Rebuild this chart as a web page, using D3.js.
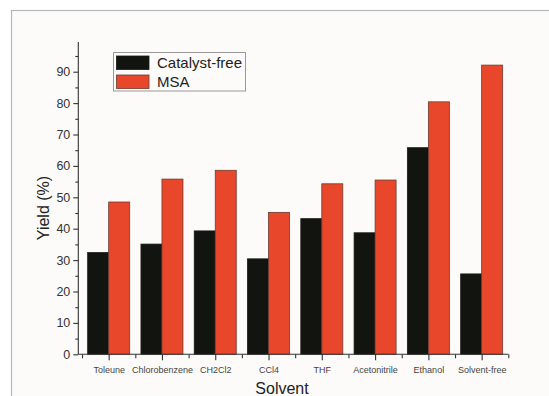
<!DOCTYPE html>
<html><head><meta charset="utf-8">
<script src="https://cdn.jsdelivr.net/npm/d3@7"></script>
<style>body{margin:0;background:#fff}svg{display:block}</style>
</head><body>
<svg id="c" width="549" height="396"></svg>
<script>
const categories = ["Toleune","Chlorobenzene","CH2Cl2","CCl4","THF","Acetonitrile","Ethanol","Solvent-free"];
const catalystFree = [32.4, 35.1, 39.3, 30.4, 43.2, 38.7, 65.8, 25.6];
const msa = [48.5, 55.8, 58.6, 45.2, 54.3, 55.5, 80.4, 92.1];
const seriesNames = ["Catalyst-free", "MSA"];
const yTicks = [0,10,20,30,40,50,60,70,80,90];

const svg = d3.select("#c");
const fill = ["#12150f", "#e8472b"];
const edge = ["#1a1a16", "#6e3b30"];

// frame
svg.append("rect").attr("x",11.5).attr("y",10.5).attr("width",600).attr("height",420)
  .attr("fill","#fdfbf9").attr("stroke","#b8b8b8").attr("stroke-width",1.2);

const x = d3.scaleLinear().domain([0.43, 8.5]).range([78.3, 508.3]);
const y = d3.scaleLinear().domain([0, 100]).range([354.3, 40.3]);
const bw = 21;

const series = [catalystFree, msa];
series.forEach((vals, s) => {
  svg.append("g").selectAll("rect").data(vals).join("rect")
    .attr("x", (d,i) => x(i+1) + (s===0 ? -bw : 0))
    .attr("y", d => y(d))
    .attr("width", bw)
    .attr("height", d => y(0) - y(d))
    .attr("fill", fill[s]).attr("stroke", edge[s]).attr("stroke-width", 0.8);
});

// Y axis
const yAxis = svg.append("g").attr("transform","translate(78.3,0)")
  .call(d3.axisLeft(y).tickValues(yTicks).tickSize(5).tickPadding(3).tickSizeOuter(0));
yAxis.select(".domain").attr("d", `M0,${y(0)}V42`);
yAxis.selectAll("text").attr("font-family","Liberation Sans, Arial, sans-serif").attr("font-size",12.5).attr("fill","#333");
yAxis.selectAll("line, .domain").attr("stroke","#333").attr("stroke-width",1.1);
svg.append("g").attr("transform","translate(78.3,0)")
  .call(d3.axisLeft(y).tickValues(d3.range(5,100,10)).tickSize(3).tickFormat("").tickSizeOuter(0))
  .call(g => g.select(".domain").remove())
  .selectAll("line").attr("stroke","#333").attr("stroke-width",1.1);

// X axis
const xAxis = svg.append("g").attr("transform",`translate(0,${y(0)})`)
  .call(d3.axisBottom(x).tickValues(d3.range(1,9)).tickSize(6).tickPadding(6)
    .tickFormat(d => categories[d-1]).tickSizeOuter(0));
xAxis.select(".domain").attr("d", `M${x(0.43)},0H${x(8.5)}`);
xAxis.selectAll("text").attr("font-family","Liberation Sans, Arial, sans-serif").attr("font-size",9).attr("fill","#444");
xAxis.selectAll("line, .domain").attr("stroke","#333").attr("stroke-width",1.1);
svg.append("g").attr("transform",`translate(0,${y(0)})`)
  .call(d3.axisBottom(x).tickValues(d3.range(0.5,9,1)).tickSize(4).tickFormat("").tickSizeOuter(0))
  .call(g => g.select(".domain").remove())
  .selectAll("line").attr("stroke","#333").attr("stroke-width",1.1);

// axis titles
svg.append("text").attr("transform","translate(49,208) rotate(-90)").attr("text-anchor","middle")
  .attr("font-family","Liberation Sans, Arial, sans-serif").attr("font-size",16).attr("fill","#222").text("Yield (%)");
svg.append("text").attr("x",282).attr("y",394).attr("text-anchor","middle")
  .attr("font-family","Liberation Sans, Arial, sans-serif").attr("font-size",16).attr("fill","#222").text("Solvent");

// legend
const lg = svg.append("g");
lg.append("rect").attr("x",113.5).attr("y",52.5).attr("width",132).attr("height",38.5)
  .attr("fill","#fdfbf9").attr("stroke","#999").attr("stroke-width",1);
seriesNames.forEach((n,i) => {
  lg.append("rect").attr("x",116.5).attr("y",56+i*19).attr("width",32.5).attr("height",13.5)
    .attr("fill",fill[i]).attr("stroke",edge[i]).attr("stroke-width",0.8);
  lg.append("text").attr("x",157).attr("y",68+i*19)
    .attr("font-family","Liberation Sans, Arial, sans-serif").attr("font-size",15).attr("fill","#222").text(n);
});
</script>
</body></html>
